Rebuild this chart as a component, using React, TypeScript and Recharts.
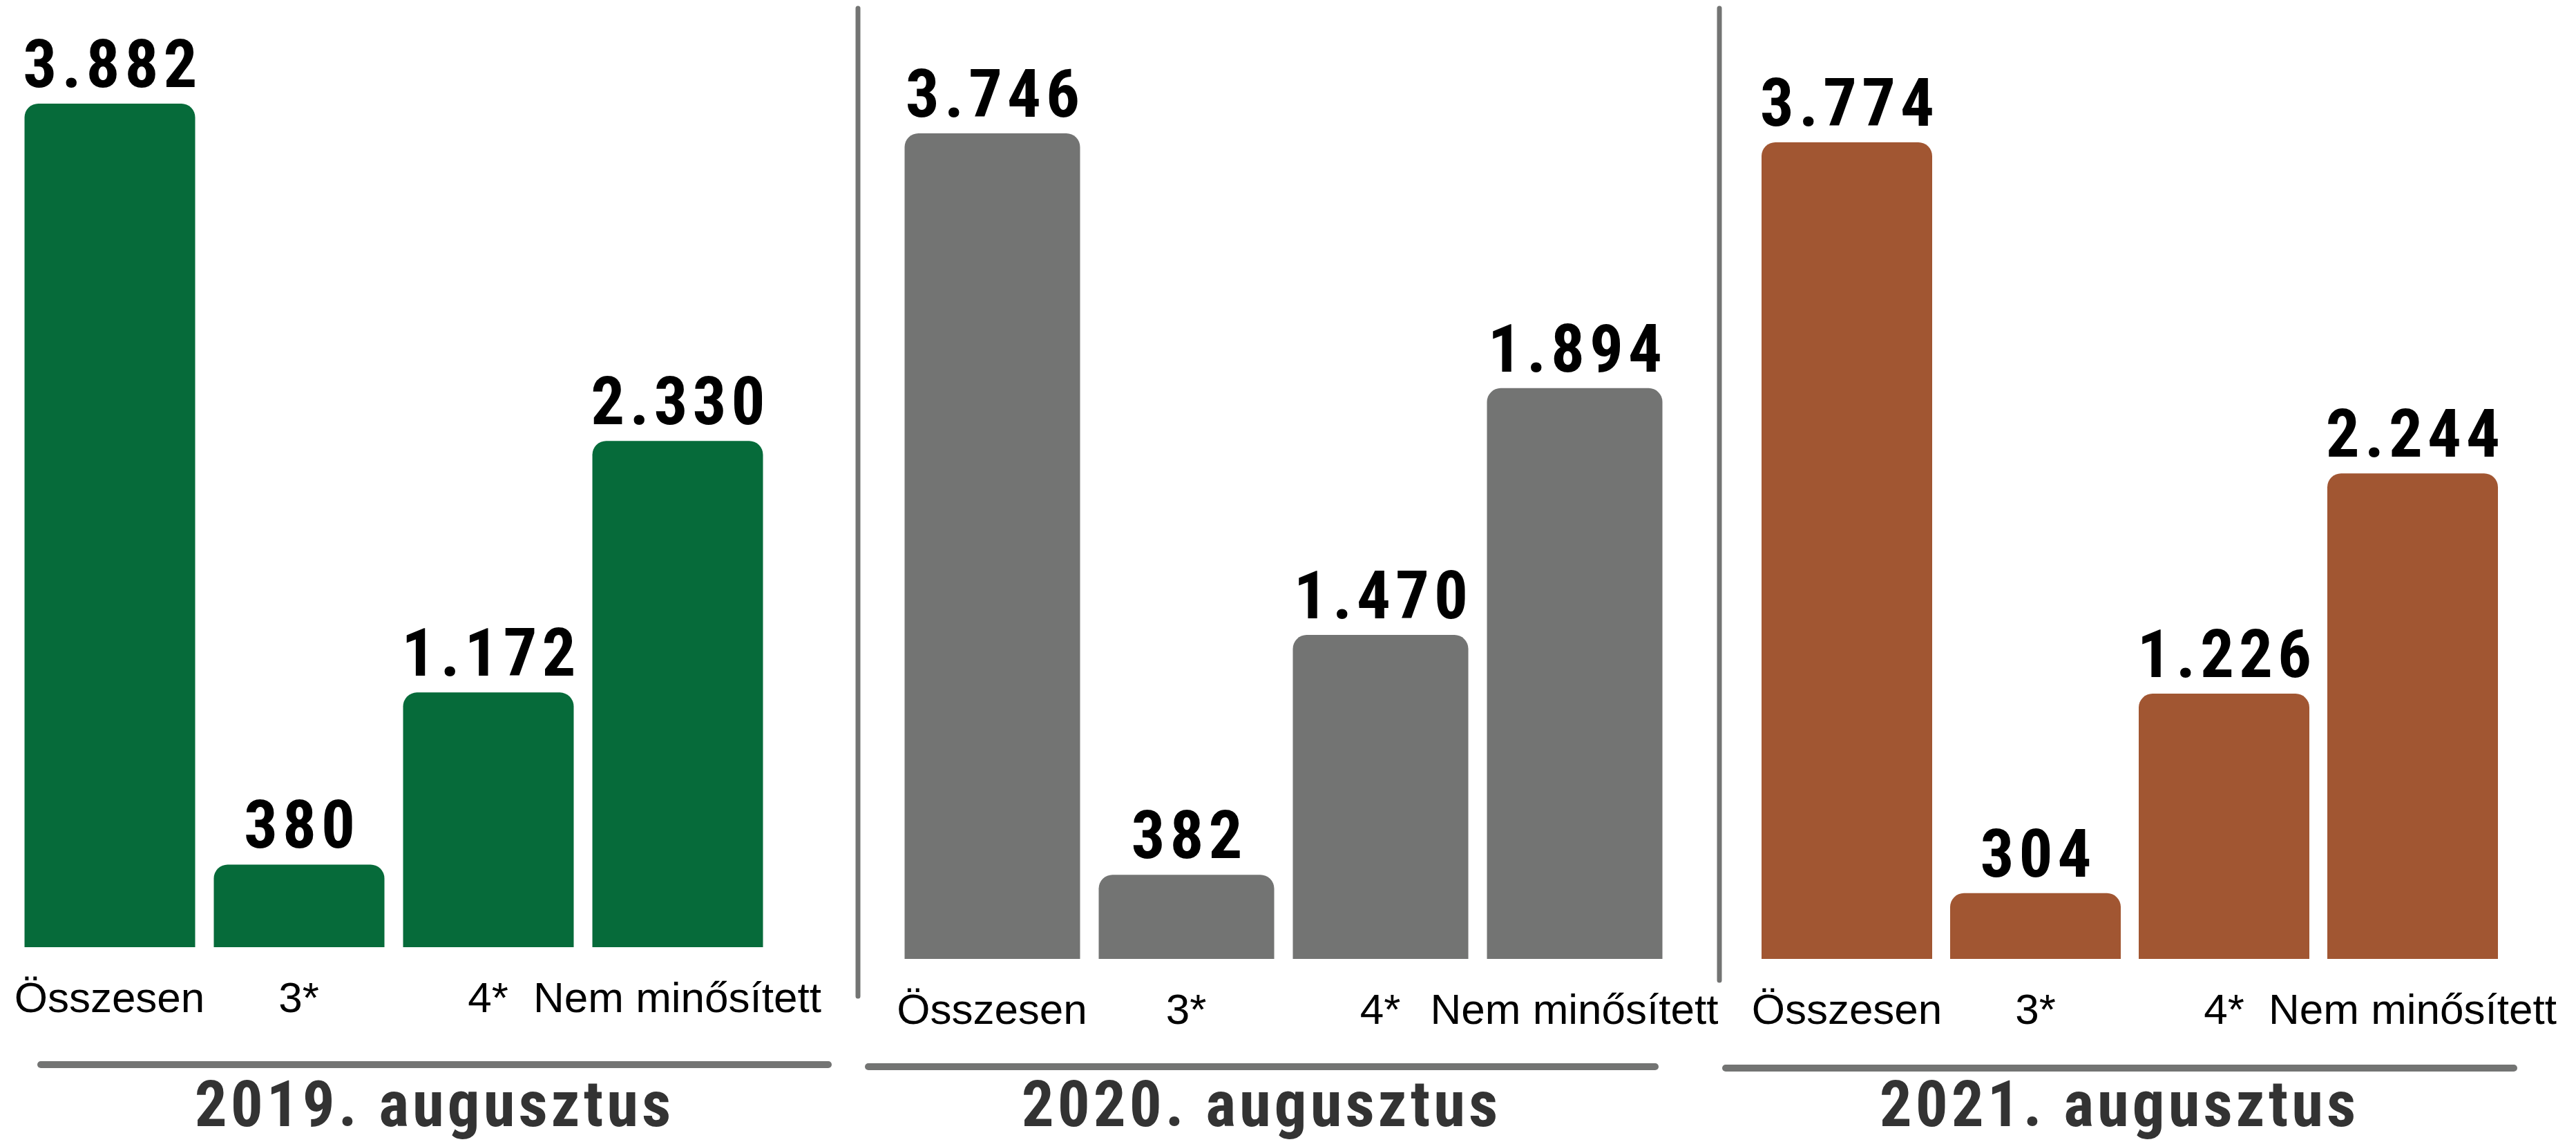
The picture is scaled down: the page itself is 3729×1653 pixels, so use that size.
import { BarChart, Bar, XAxis, YAxis, LabelList } from 'recharts'

const categories = ['Összesen', '3*', '4*', 'Nem minősített']

// printed values (labels above the bars)
const values2019 = [3882, 380, 1172, 2330]
const values2020 = [3746, 382, 1470, 1894]
const values2021 = [3774, 304, 1226, 2244]

// bar lengths as drawn in the reference; the 2020 "Nem minősített" bar
// is drawn much taller than its printed 1.894 (about 2.590)
const heights2019 = [3882, 380, 1172, 2330]
const heights2020 = [3746, 382, 1470, 2590]
const heights2021 = [3774, 304, 1226, 2244]

const titles = ['2019. augusztus', '2020. augusztus', '2021. augusztus']

const GREEN = '#066b3a'
const GREY = '#737473'
const BROWN = '#a15632'
const LINE = '#737473'

const NARROW = "'Roboto Condensed', 'Liberation Sans Narrow', 'DejaVu Sans Condensed', sans-serif"

const fmt = (v: number) => String(v).replace(/\B(?=(\d{3})+(?!\d))/g, '.')

interface PanelProps {
  values: number[]
  heights: number[]
  color: string
  left: number
  width: number
  height: number
  margin: { top: number; right: number; left: number; bottom: number }
  barSize: number
}

function Panel({ values, heights, color, left, width, height, margin, barSize }: PanelProps) {
  const data = categories.map((c, i) => ({ name: c, v: heights[i], label: fmt(values[i]) }))
  const renderLabel = (p: any) => {
    const { x, y, width: w, value } = p
    return (
      <text x={Number(x) + Number(w) / 2 + 4} y={Number(y) - 24} textAnchor="middle"
        fill="#000" fontSize={97} fontWeight={700} fontFamily={NARROW} letterSpacing={7}>
        {value}
      </text>
    )
  }
  return (
    <div style={{ position: 'absolute', left, top: 0 }}>
      <BarChart width={width} height={height} data={data} margin={margin} style={{ overflow: 'visible' }}>
        <XAxis dataKey="name" interval={0} tickLine={false} axisLine={false} tickSize={0} tickMargin={50}
          height={100} tick={{ fill: '#000', fontSize: 62, fontFamily: "'Liberation Sans', Arial, sans-serif" }} />
        <YAxis hide domain={[0, Math.max(...heights)]} />
        <Bar dataKey="v" fill={color} barSize={barSize} radius={[20, 20, 0, 0]} isAnimationActive={false}>
          <LabelList dataKey="label" content={renderLabel} />
        </Bar>
      </BarChart>
    </div>
  )
}

export default function App() {
  return (
    <div style={{ position: 'absolute', left: 0, top: 0, width: 3729, height: 1653, background: '#fff', overflow: 'hidden' }}>
      <svg width={3729} height={1653} style={{ position: 'absolute', left: 0, top: 0 }}>
        <line x1={1242} y1={12} x2={1242} y2={1442} stroke={LINE} strokeWidth={7} strokeLinecap="round" />
        <line x1={2489} y1={12} x2={2489} y2={1419} stroke={LINE} strokeWidth={7} strokeLinecap="round" />
        <line x1={59} y1={1541} x2={1199} y2={1541} stroke={LINE} strokeWidth={10} strokeLinecap="round" />
        <line x1={1257} y1={1544} x2={2396} y2={1544} stroke={LINE} strokeWidth={10} strokeLinecap="round" />
        <line x1={2498} y1={1546} x2={3639} y2={1546} stroke={LINE} strokeWidth={10} strokeLinecap="round" />
        {titles.map((t, i) => (
          <text key={t} x={[629, 1826, 3068][i]} y={1630} textAnchor="middle"
            fill="#333333" fontSize={93} fontWeight={700} fontFamily={NARROW} letterSpacing={5}>
            {t}
          </text>
        ))}
      </svg>
      <Panel values={values2019} heights={heights2019} color={GREEN} left={0} width={1250} height={1500}
        margin={{ top: 150, right: 132.5, left: 21.5, bottom: 29 }} barSize={247} />
      <Panel values={values2020} heights={heights2020} color={GREY} left={1260} width={1240} height={1520}
        margin={{ top: 193, right: 80.5, left: 35.5, bottom: 32 }} barSize={254} />
      <Panel values={values2021} heights={heights2021} color={BROWN} left={2500} width={1229} height={1520}
        margin={{ top: 206, right: 100, left: 37, bottom: 32 }} barSize={247} />
    </div>
  )
}
